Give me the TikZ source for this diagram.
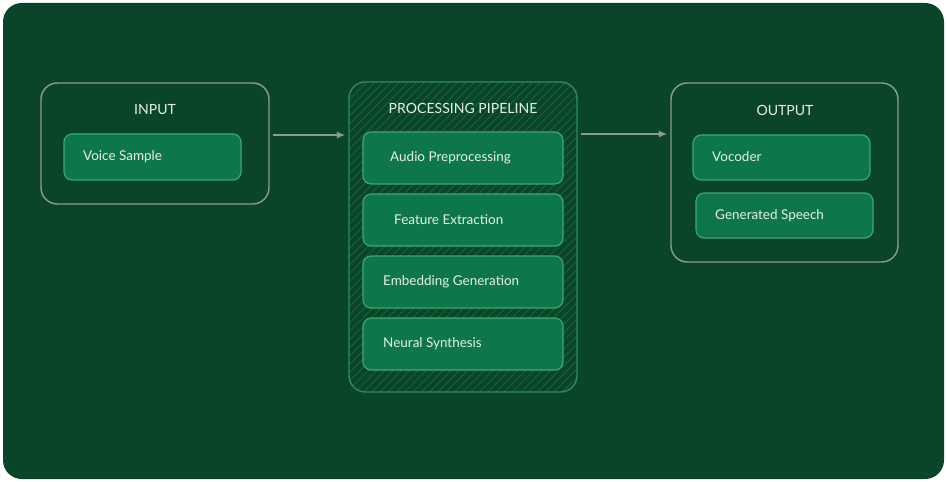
\documentclass[tikz,border=0pt]{standalone}
\usepackage{fontspec}
\setmainfont{Lato}
\usetikzlibrary{patterns.meta,arrows.meta}
\definecolor{bgdark}{HTML}{0A4529}
\definecolor{boxfill}{HTML}{0E774A}
\definecolor{boxline}{HTML}{3FA872}
\definecolor{panelline}{HTML}{8C9C92}
\definecolor{hatch}{HTML}{1F6A40}
\definecolor{txt}{HTML}{E6EEE8}
\tikzset{
  panel/.style={draw=panelline, line width=1.2pt, rounded corners=14pt},
  stagebox/.style={draw=boxline, fill=boxfill, line width=1pt, rounded corners=7pt},
  lbl/.style={text=txt, font=\fontsize{11.5}{13}\selectfont, anchor=west, inner sep=0pt},
  ttl/.style={text=txt, font=\fontsize{12}{14}\selectfont, inner sep=0pt},
  flow/.style={-{Latex[length=7pt,width=6pt]}, draw=panelline, line width=1pt}
}
\begin{document}
\begin{tikzpicture}[x=0.03cm, y=-0.03cm]
  \useasboundingbox (0,0) rectangle (947,482);
  \fill[bgdark, rounded corners=16pt] (3,3) rectangle (944,479);

  %%%%% PANELS
  \draw[panel] (41,83) rectangle (269,204);
  \node[ttl] (tin) at (155,110) {INPUT};
  \fill[pattern={Lines[angle=45,distance=5pt,line width=0.6pt]}, pattern color=hatch, rounded corners=14pt] (349,82) rectangle (577,392);
  \draw[panel, draw=boxline!70!bgdark] (349,82) rectangle (577,392);
  \node[ttl] (tproc) at (463,108) {PROCESSING PIPELINE};
  \draw[panel] (671,83) rectangle (898,262);
  \node[ttl] (tout) at (785,110) {OUTPUT};

  %%%%% STAGES
  \draw[stagebox] (64,134) rectangle (241,180);
  \node[lbl] (voice) at (83,157) {Voice Sample};

  \draw[stagebox] (363,132) rectangle (563,184);
  \node[lbl] (audio) at (390,158) {Audio Preprocessing};
  \draw[stagebox] (363,194) rectangle (563,246);
  \node[lbl] (feat) at (394,220) {Feature Extraction};
  \draw[stagebox] (363,256) rectangle (563,308);
  \node[lbl] (emb) at (383,282) {Embedding Generation};
  \draw[stagebox] (363,318) rectangle (563,370);
  \node[lbl] (neur) at (383,344) {Neural Synthesis};

  \draw[stagebox] (693,135) rectangle (870,180);
  \node[lbl] (voc) at (712,157) {Vocoder};
  \draw[stagebox] (696,193) rectangle (873,238);
  \node[lbl] (gen) at (715,216) {Generated Speech};

  %%%%% EDGES
  \coordinate (a1) at (273,135);
  \coordinate (a2) at (345,135);
  \coordinate (b1) at (581,134);
  \coordinate (b2) at (667,134);
  \draw[flow] (a1) -- (a2);
  \draw[flow] (b1) -- (b2);
\end{tikzpicture}
\end{document}
